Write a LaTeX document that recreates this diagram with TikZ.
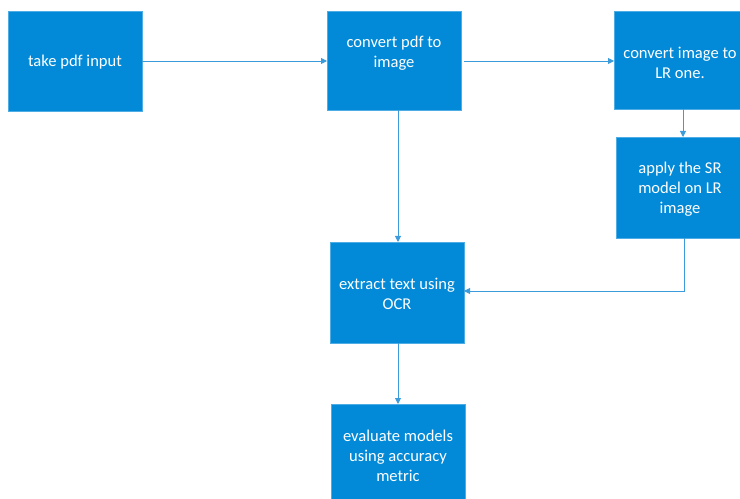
\documentclass[tikz,border=0pt]{standalone}
\usepackage{fontspec}
\setmainfont{Carlito}
\usetikzlibrary{arrows.meta}
\definecolor{boxblue}{HTML}{028AD8}
\definecolor{lineblue}{HTML}{3C9BDA}
\begin{document}
\begin{tikzpicture}[x=1bp,y=-1bp,
  box/.style={fill=boxblue,draw=boxblue!70!white,line width=0.6bp},
  lbl/.style={text=white,align=center,font=\fontsize{16.6}{20}\selectfont,inner sep=0pt},
  conn/.style={draw=lineblue,line width=0.9bp,-{Triangle[length=6bp,width=6bp]}}]
\useasboundingbox (0,0) rectangle (740,499);
\path[box] (8,11) rectangle (142,111);
\node[lbl] (t1) at (75,62) {take pdf input};
\coordinate (b1e) at (142,61);
\path[box] (327,11) rectangle (461,110);
\node[lbl] (t2) at (394,53) {convert pdf to\\image};
\coordinate (b2w) at (327,61);
\coordinate (b2e) at (464,61);
\coordinate (b2s) at (398,110);
\path[box] (614,11) rectangle (742,109);
\node[lbl] (t3) at (680,63) {convert image to\\LR one.};
\coordinate (b3w) at (614,61);
\coordinate (b3s) at (683,109);
\path[box] (616,137) rectangle (742,238);
\node[lbl] (t4) at (680,189) {apply the SR\\model on LR\\image};
\coordinate (b4n) at (683,137);
\coordinate (b4s) at (684,238);
\path[box] (330,242) rectangle (464,343);
\node[lbl] (t5) at (397,294) {extract text using\\OCR};
\coordinate (b5n) at (398,242);
\coordinate (b5e) at (464,291);
\coordinate (b5s) at (398,343);
\path[box] (331,404) rectangle (465,502);
\node[lbl] (t6) at (398,456) {evaluate models\\using accuracy\\metric};
\coordinate (b6n) at (398,404);
\draw[conn] (b1e) -- (b2w);
\draw[conn] (b2e) -- (b3w);
\draw[conn] (b2s) -- (b5n);
\draw[conn] (b3s) -- (b4n);
\draw[conn] (b4s) |- (b5e);
\draw[conn] (b5s) -- (b6n);
\end{tikzpicture}
\end{document}
